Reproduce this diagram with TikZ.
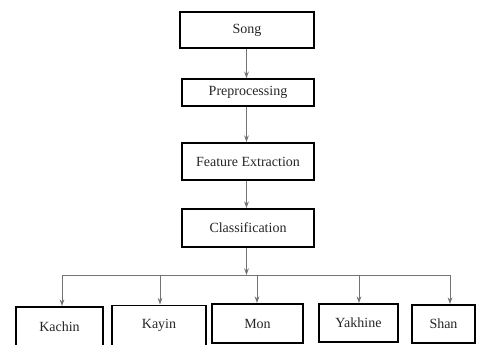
\documentclass[tikz,border=0pt]{standalone}
\usepackage{fontspec}
\setmainfont{Liberation Serif}
\usetikzlibrary{arrows.meta}
\begin{document}
\begin{tikzpicture}[x=0.75pt,y=-0.75pt,
  box/.style={draw=black,line width=1.4pt,fill=white,inner sep=0pt,
    font=\fontsize{10.5}{12}\selectfont,text=black!85},
  conn/.style={draw=black!55,line width=0.7pt},
  arr/.style={conn,-{Stealth[length=5pt,width=3.5pt]}}]
\useasboundingbox[fill=white] (0,0) rectangle (480,345);
\node[box,minimum width=100.5pt,minimum height=27pt] (song) at (247,30) {Song};
\node[box,minimum width=99pt,minimum height=20pt] (pre) at (248,92.5) {Preprocessing};
\node[box,minimum width=99pt,minimum height=27.75pt] (fe) at (248,161.5) {Feature Extraction};
\node[box,minimum width=99pt,minimum height=28.5pt] (cls) at (248,228) {Classification};
\node[box,minimum width=65.25pt,minimum height=30pt] (kachin) at (59.5,327) {Kachin};
\node[box,minimum width=70.5pt,minimum height=30pt] (kayin) at (159,325.5) {Kayin};
\node[box,minimum width=68.25pt,minimum height=29.25pt] (mon) at (257.5,323.5) {Mon};
\node[box,minimum width=59.25pt,minimum height=28.5pt] (yak) at (358.5,323) {Yakhine};
\node[box,minimum width=47.25pt,minimum height=28.5pt] (shan) at (443.5,324) {Shan};
\coordinate (busL) at (62,275);
\coordinate (busR) at (450,275);
\coordinate (bK) at (160,275);
\coordinate (bM) at (257,275);
\coordinate (bY) at (359,275);
\draw[arr] (song.south -| 246.5,0) -- (pre.north -| 246.5,0);
\draw[arr] (pre.south -| 246.5,0) -- (fe.north -| 246.5,0);
\draw[arr] (fe.south -| 246.5,0) -- (cls.north -| 246.5,0);
\draw[arr] (cls.south -| 246.5,0) -- (246.5,275);
\draw[conn] (busL) -- (busR);
\draw[arr] (busL) -- (busL |- kachin.north);
\draw[arr] (bK) -- (bK |- kayin.north);
\draw[arr] (bM) -- (bM |- mon.north);
\draw[arr] (bY) -- (bY |- yak.north);
\draw[arr] (busR) -- (busR |- shan.north);
\end{tikzpicture}
\end{document}
